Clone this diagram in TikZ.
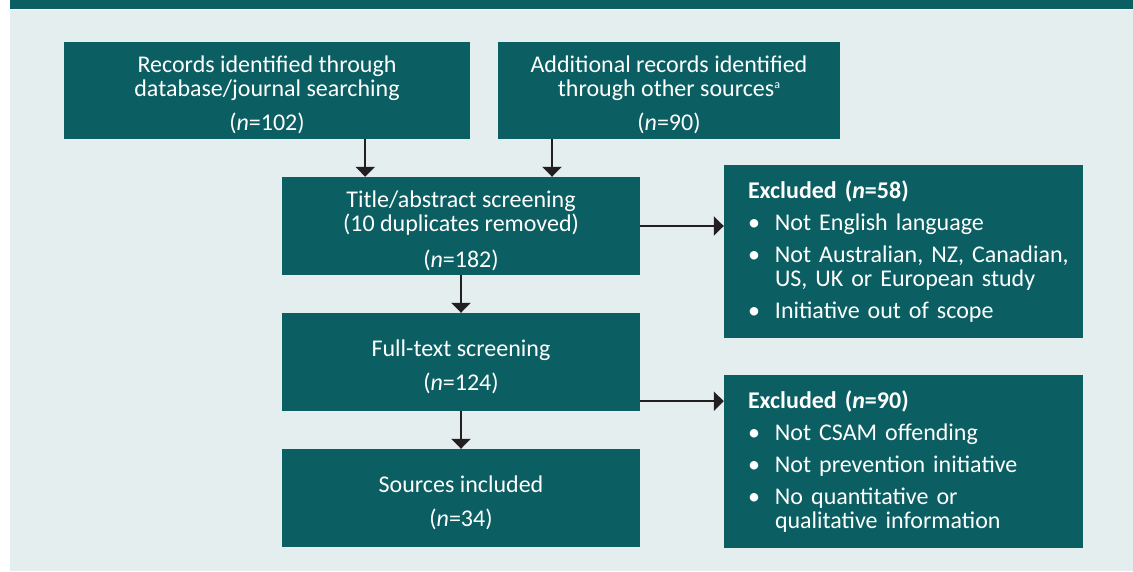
\documentclass[tikz,border=0pt]{standalone}
\usepackage{fontspec}
\setmainfont{Carlito}
\usetikzlibrary{positioning,arrows.meta}
\definecolor{tealbox}{HTML}{0B5F62}
\definecolor{panelbg}{HTML}{E4EEEF}
\definecolor{arrowink}{HTML}{231F20}
\newcommand{\itm}{\makebox[27bp][l]{\textbullet}}
\newcommand{\ind}{\hspace*{27bp}}
\newcommand{\supa}{\raisebox{8bp}{\fontsize{12bp}{12bp}\selectfont a}}
\newcommand{\tstrut}{\rule{0pt}{26bp}}

\begin{document}
\begin{tikzpicture}[x=1bp,y=-1bp,node distance=136bp,on grid,
	box/.style={fill=tealbox,text=white,align=center,inner sep=0pt,
		font=\fontsize{24bp}{24bp}\selectfont},
	stagebox/.style={box,minimum width=358bp,minimum height=98bp},
	exclbox/.style={box,align=left,minimum width=359bp,minimum height=173bp,
		text width=311bp,inner xsep=24bp},
	arr/.style={draw=arrowink,line width=2.5bp,-{Triangle[length=10bp,width=19bp]}}]
		\useasboundingbox (0,0) rectangle (1133,572);
		% background
		\fill[panelbg] (10,10) rectangle (1133,571);
		\fill[tealbox] (10,0) rectangle (1133,9);
		% boxes
		\node[box,minimum width=406bp,minimum height=97bp](db) at (267,90.5)
			{\tstrut Records identified through\\database/journal searching\\[10bp](\textit{n}=102)};
		\node[box,minimum width=342bp,minimum height=97bp](other) at (669,90.5)
			{\tstrut Additional records identified\\through other sources\supa\\[10bp](\textit{n}=90)};
		\node[stagebox](title) at (461,226)
			{\tstrut Title/abstract screening\\(10 duplicates removed)\\[12bp](\textit{n}=182)};
		\node[stagebox](full)[below=of title]
			{\tstrut Full-text screening\\[10bp](\textit{n}=124)};
		\node[stagebox](incl)[below=of full]
			{\tstrut Sources included\\[10bp](\textit{n}=34)};
		\node[exclbox](ex1) at (903.5,251.5)
			{\textbf{Excluded (\textit{n}=58)}\\[8bp]
			\itm Not English language\\[8bp]
			\itm \mbox{Not Australian, NZ, Canadian,}\\
			\ind US, UK or European study\\[8bp]
			\itm Initiative out of scope};
		\node[exclbox](ex2) at (903.5,461.5)
			{\textbf{Excluded (\textit{n}=90)}\\[8bp]
			\itm Not CSAM offending\\[8bp]
			\itm Not prevention initiative\\[8bp]
			\itm No quantitative or\\
			\ind qualitative information};
		% connectors
		\coordinate (dbout) at ([xshift=-105bp]db.south east);
		\coordinate (otherout) at ([xshift=-117bp]other.south);
		\draw[arr] (dbout) -- (dbout |- title.north);
		\draw[arr] (otherout) -- (otherout |- title.north);
		\draw[arr] (title.south) -- (full.north);
		\draw[arr] (full.south) -- (incl.north);
		\draw[arr] (title.east) -- (title.east -| ex1.west);
		\draw[arr] ([yshift=10bp]full.south east) -- ([yshift=10bp]full.south east -| ex2.west);
\end{tikzpicture}
\end{document}
